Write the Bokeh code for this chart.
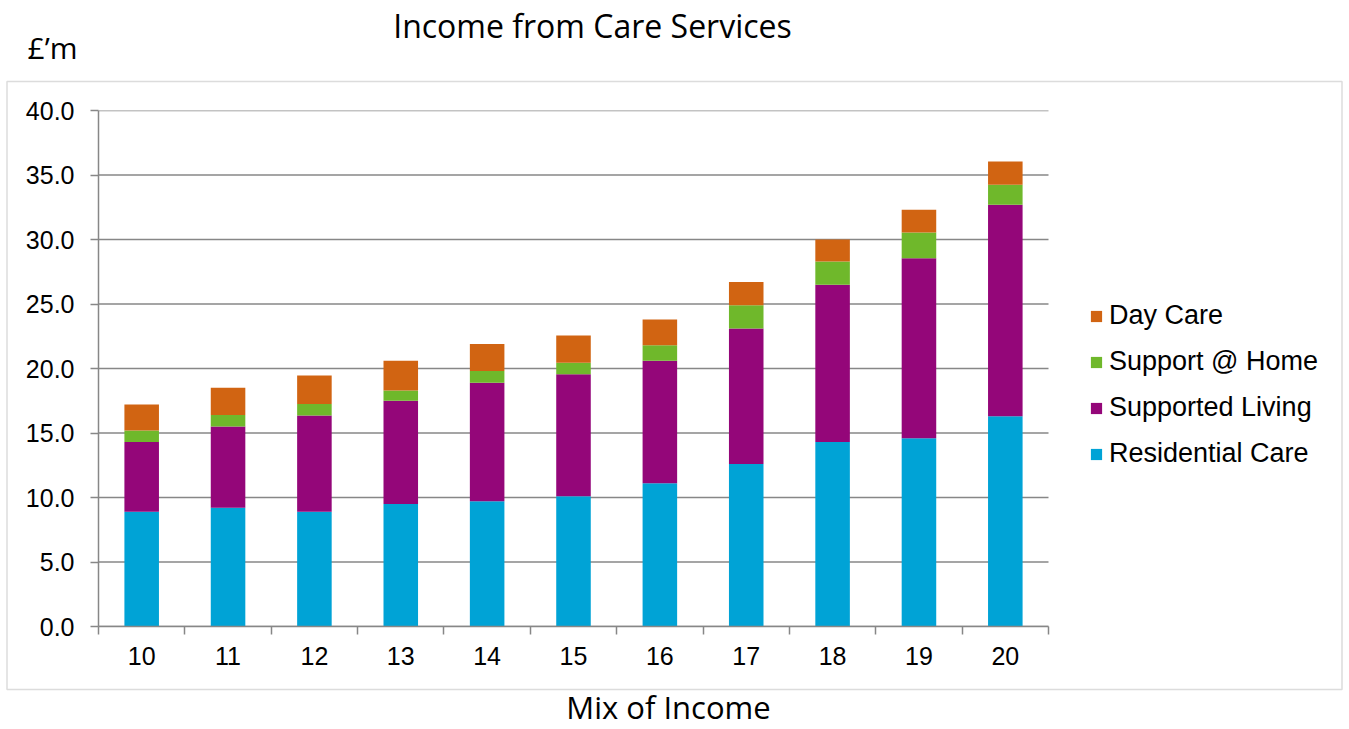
from bokeh.plotting import figure
from bokeh.models import (Range1d, FixedTicker, NumeralTickFormatter, Legend, LegendItem,
                          Label, BoxAnnotation, ColumnDataSource)
from bokeh.embed import file_html
from bokeh.resources import INLINE

# ---- data ----
years = ["10", "11", "12", "13", "14", "15", "16", "17", "18", "19", "20"]
residential_care = [8.9, 9.2, 8.9, 9.5, 9.7, 10.1, 11.1, 12.6, 14.3, 14.6, 16.3]
supported_living = [5.4, 6.3, 7.45, 8.0, 9.2, 9.45, 9.5, 10.5, 12.2, 13.95, 16.4]
support_at_home = [0.9, 0.9, 0.9, 0.8, 0.9, 0.9, 1.2, 1.8, 1.8, 2.0, 1.55]
day_care = [2.0, 2.1, 2.2, 2.3, 2.1, 2.1, 2.0, 1.8, 1.7, 1.75, 1.8]
y_ticks = [0, 5, 10, 15, 20, 25, 30, 35, 40]

series_names = ["Residential Care", "Supported Living", "Support @ Home", "Day Care"]
colors = ["#00A3D6", "#940679", "#6FB82B", "#D16412"]

W, H = 1349, 729
GRAY = "#878787"
TITLE_FONT = "Open Sans"

# ---------- background figure: outer box and free texts ----------
bg = figure(width=W, height=H, output_backend="svg", toolbar_location=None,
            x_range=Range1d(0, W), y_range=Range1d(H, 0),
            min_border=0, min_border_left=0, min_border_right=0,
            min_border_top=0, min_border_bottom=0)
bg.axis.visible = False
bg.grid.visible = False
bg.outline_line_color = None
bg.background_fill_color = "white"
bg.border_fill_color = "white"

bg.add_layout(BoxAnnotation(left=6.5, right=1341.5, top=81, bottom=689,
                            fill_alpha=0, fill_color=None,
                            line_color="#8C8C8C", line_width=1.5))
bg.add_layout(Label(x=592, y=25, text="Income from Care Services", text_align="center",
                    text_baseline="alphabetic", text_font=TITLE_FONT, text_font_size="32px",
                    text_color="black"))
bg.add_layout(Label(x=27, y=47, text="£\u2019m", text_align="left",
                    text_baseline="alphabetic", text_font=TITLE_FONT, text_font_size="30px",
                    text_color="black"))
bg.add_layout(Label(x=668, y=706, text="Mix of Income", text_align="center",
                    text_baseline="alphabetic", text_font=TITLE_FONT, text_font_size="31px",
                    text_color="black"))

# ---------- main chart, laid over the background ----------
n = len(years)
xs = [i + 0.5 for i in range(n)]
source = ColumnDataSource(dict(
    x=xs,
    **{"Residential Care": residential_care,
       "Supported Living": supported_living,
       "Support @ Home": support_at_home,
       "Day Care": day_care}))

LEFT = 98
CAT_AREA = 950          # pixel width taken by the 11 categories
x_end = n * (W - LEFT) / CAT_AREA

p = figure(width=W, height=H, output_backend="svg", toolbar_location=None,
           x_range=Range1d(0, x_end), y_range=Range1d(0, 40),
           min_border_left=LEFT, min_border_right=0, min_border_top=110, min_border_bottom=103)
p.outline_line_color = None
p.background_fill_alpha = 0
p.border_fill_alpha = 0
p.styles = {"position": "absolute", "left": "0px", "top": "0px"}

# horizontal grid lines limited to the category area
p.segment(x0=[0] * len(y_ticks), x1=[n] * len(y_ticks), y0=y_ticks, y1=y_ticks,
          line_color=GRAY, line_width=1.5)

renderers = p.vbar_stack(series_names, x="x", width=0.4, source=source,
                         color=colors, line_color=None)

xa = p.xaxis[0]
xa.bounds = (0, n)
xa.ticker = FixedTicker(ticks=xs, minor_ticks=list(range(n + 1)))
xa.major_label_overrides = {x: y for x, y in zip(xs, years)}
xa.major_tick_line_color = None
xa.minor_tick_line_color = GRAY
xa.minor_tick_line_width = 1.5
xa.minor_tick_out = 8
xa.minor_tick_in = 0
xa.axis_line_color = GRAY
xa.axis_line_width = 1.5
xa.major_label_text_font = "Liberation Sans"
xa.major_label_text_font_size = "25px"
xa.major_label_text_color = "black"
xa.major_label_standoff = 12

ya = p.yaxis[0]
ya.ticker = FixedTicker(ticks=y_ticks, minor_ticks=[])
ya.formatter = NumeralTickFormatter(format="0.0")
ya.major_tick_line_color = GRAY
ya.major_tick_line_width = 1.5
ya.major_tick_out = 8
ya.major_tick_in = 0
ya.minor_tick_line_color = None
ya.axis_line_color = GRAY
ya.axis_line_width = 1.5
ya.major_label_text_font = "Liberation Sans"
ya.major_label_text_font_size = "25px"
ya.major_label_text_color = "black"
ya.major_label_standoff = 16

p.xgrid.grid_line_color = None
p.ygrid.grid_line_color = None

items = [LegendItem(label=name, renderers=[r]) for name, r in zip(series_names, renderers)]
legend = Legend(items=items[::-1], orientation="vertical", location=(991, 157))
legend.border_line_color = None
legend.background_fill_alpha = 0
legend.padding = 0
legend.margin = 0
legend.spacing = 15
legend.glyph_width = 14
legend.glyph_height = 14
legend.label_standoff = 6
legend.label_text_font = "Liberation Sans"
legend.label_text_font_size = "27px"
legend.label_text_color = "black"
legend.label_height = 30
p.add_layout(legend, "center")

open("out.html", "w").write(file_html([bg, p], INLINE))
